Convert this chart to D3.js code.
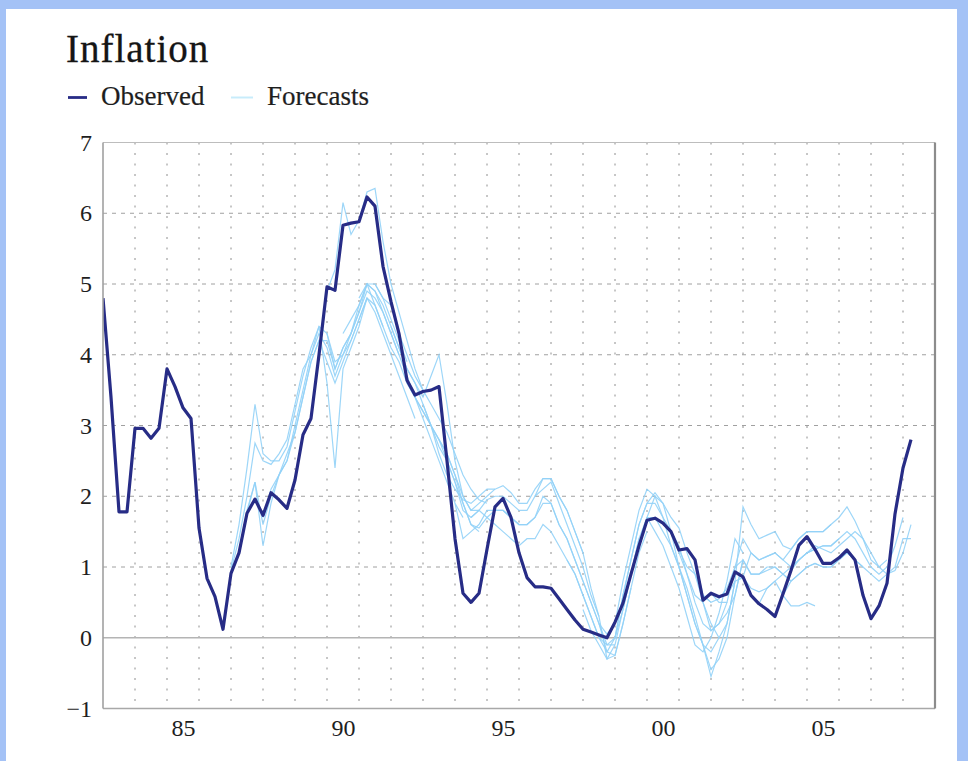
<!DOCTYPE html>
<html>
<head>
<meta charset="utf-8">
<script src="https://cdn.jsdelivr.net/npm/d3@7"></script>
<style>
  html, body { margin: 0; padding: 0; background: #a4c2f6; }
  svg { display: block; }
</style>
</head>
<body>
<svg id="chart" width="968" height="761"></svg>
<script>
const WIDTH = 968;
const HEIGHT = 761;
const MARGIN = { top: 142.5, right: 33, bottom: 52.5, left: 103 };

// observed inflation, quarterly from 1983Q1
const observedStart = 1983;
const observed = [
  4.8, 3.4, 1.78, 1.78, 2.96, 2.96, 2.82, 2.96,
  3.8, 3.55, 3.25, 3.1, 1.55, 0.84, 0.58, 0.12,
  0.91, 1.2, 1.76, 1.96, 1.73, 2.05, 1.95, 1.83,
  2.23, 2.87, 3.1, 4.0, 4.96, 4.91, 5.83, 5.86,
  5.88, 6.23, 6.1, 5.25, 4.75, 4.3, 3.64, 3.43,
  3.48, 3.5, 3.55, 2.5, 1.4, 0.63, 0.5, 0.63,
  1.25, 1.85, 1.97, 1.7, 1.2, 0.85, 0.72, 0.72,
  0.7, 0.55, 0.4, 0.25, 0.12, 0.08, 0.04, 0.0,
  0.22, 0.49, 0.9, 1.3, 1.66, 1.69, 1.62, 1.5,
  1.24, 1.26, 1.1, 0.53, 0.63, 0.58, 0.62, 0.93,
  0.86, 0.6, 0.48, 0.4, 0.3, 0.62, 0.95, 1.31,
  1.43, 1.25, 1.05, 1.05, 1.13, 1.24, 1.1, 0.6,
  0.27, 0.45, 0.77, 1.75, 2.4, 2.8
];

// forecast paths: first quarter, then quarterly values
const forecasts = [
  { start: "1987Q1", values: [1.0, 1.6, 2.4, 3.3, 2.6, 2.5, 2.5, 2.7, 3.2, 3.7, 4.1, 4.4, 3.6, 2.4, 3.8, 4.1, 4.4, 4.8] },
  { start: "1987Q1", values: [0.95, 1.4, 2.0, 2.75, 2.5, 2.45, 2.6, 2.8, 3.3, 3.8, 4.0, 4.3, 4.1, 3.7, 4.0, 4.2, 4.5, 4.8, 4.7, 4.4] },
  { start: "1987Q2", values: [1.2, 1.8, 2.2, 1.3, 1.9, 2.3, 2.5, 2.9, 3.4, 3.9, 4.2, 4.2, 3.8, 4.1, 4.3, 4.6, 5.0, 4.9, 4.6, 4.3, 4.0] },
  { start: "1987Q3", values: [1.76, 2.2, 1.6, 2.0, 2.3, 2.5, 3.0, 3.5, 4.0, 4.4, 4.3, 3.9, 4.0, 4.3, 4.7, 5.0, 5.0, 4.8, 4.5, 4.2, 3.9] },
  { start: "1988Q1", values: [1.7, 2.1, 2.3, 2.6, 2.9, 3.4, 3.9, 4.2, 3.9, 3.6, 3.9, 4.2, 4.5, 4.8, 4.6, 4.3, 4.0, 3.7, 3.4, 3.1] },
  { start: "1989Q3", values: [3.1, 4.0, 4.9, 5.2, 6.15, 5.7, 5.9, 6.3, 6.35, 5.6, 5.0, 4.6, 4.2, 3.8, 3.5] },
  { start: "1990Q1", values: [4.3, 3.8, 4.1, 4.3, 4.6, 4.9, 4.8, 4.6, 4.3, 4.0, 3.7, 3.4, 3.1, 2.8, 2.5, 2.2, 1.9, 1.7] },
  { start: "1990Q3", values: [4.3, 4.5, 4.7, 5.0, 4.9, 4.7, 4.4, 4.1, 3.8, 3.6, 3.3, 3.0, 2.7, 2.5, 2.2, 1.9, 1.6, 1.5] },
  { start: "1991Q1", values: [4.8, 5.0, 4.7, 4.4, 4.1, 3.9, 3.6, 3.4, 3.2, 3.0, 2.8, 2.6, 2.3, 2.0, 1.8, 1.8] },
  { start: "1991Q3", values: [5.0, 4.8, 4.7, 4.3, 4.0, 3.7, 3.5, 3.3, 3.1, 2.9, 2.6, 2.3, 2.1, 1.95, 1.9] },
  { start: "1992Q1", values: [4.4, 4.1, 3.8, 3.6, 3.4, 3.7, 4.0, 3.3, 2.5, 2.0, 1.8, 1.9, 2.0, 2.1] },
  { start: "1992Q3", values: [3.6, 3.4, 3.2, 3.0, 2.8, 2.6, 2.3, 1.9, 1.6, 1.55, 1.7, 1.8, 1.8, 1.7] },
  { start: "1993Q1", values: [3.3, 3.0, 2.6, 2.3, 2.1, 1.95, 1.9, 2.0, 2.1, 2.1, 2.15, 2.05, 1.9, 1.9, 2.1, 2.25, 2.25, 2.0, 1.8, 1.5, 1.2] },
  { start: "1993Q3", values: [2.8, 2.5, 2.2, 1.8, 1.7, 1.8, 1.95, 2.0, 2.0, 1.9, 1.8, 1.8, 2.0, 2.1, 2.2, 1.9, 1.6, 1.3, 1.0, 0.6, 0.3] },
  { start: "1994Q1", values: [1.9, 1.4, 1.5, 1.6, 1.8, 1.8, 1.8, 1.7, 1.6, 1.6, 1.7, 2.0, 1.9, 1.6, 1.4, 1.1, 0.8, 0.5, 0.2, -0.1, -0.1] },
  { start: "1994Q3", values: [1.7, 1.8, 1.7, 1.6, 1.5, 1.4, 1.3, 1.4, 1.4, 1.6, 1.5, 1.3, 1.1, 0.9, 0.6, 0.3, 0.0, -0.2, -0.25, 0.2, 0.7] },
  { start: "1995Q3", values: [1.8, 1.7, 1.6, 1.6, 1.7, 1.9, 1.9, 1.6, 1.4, 1.1, 0.8, 0.5, 0.2, -0.2, 0.0, 0.4, 0.9, 1.4] },
  { start: "1996Q3", values: [2.0, 2.25, 2.25, 2.0, 1.8, 1.5, 1.2, 0.7, 0.3, -0.3, -0.25, 0.2, 0.7, 1.2, 1.5] },
  { start: "1997Q3", values: [1.1, 0.9, 0.6, 0.3, 0.0, -0.1, 0.0, 0.6, 1.1, 1.6, 1.9, 2.05, 1.9, 1.7, 1.55, 1.2, 0.9, 0.6, 0.5] },
  { start: "1998Q1", values: [0.4, 0.1, -0.1, -0.3, -0.1, 0.4, 0.9, 1.4, 1.7, 1.7, 1.5, 1.3, 1.0, 0.6, 0.2, -0.1, -0.2, 0.0] },
  { start: "1998Q3", values: [0.2, 0.05, 0.2, 0.8, 1.3, 1.8, 2.1, 2.0, 1.7, 1.5, 1.3, 0.9, 0.5, 0.2, 0.1, 0.2, 0.5] },
  { start: "1999Q1", values: [0.0, 0.6, 1.1, 1.6, 1.9, 1.9, 1.7, 1.3, 1.0, 0.6, 0.2, -0.1, -0.55, -0.2, 0.2, 0.8] },
  { start: "1999Q3", values: [0.9, 1.3, 1.7, 2.0, 1.9, 1.5, 1.0, 0.7, 0.3, -0.1, -0.45, -0.3, 0.0, 0.6, 1.1] },
  { start: "2000Q1", values: [1.7, 1.5, 1.3, 1.0, 0.7, 0.3, -0.1, -0.2, 0.0, 0.35, 0.8, 1.4, 1.2] },
  { start: "2000Q3", values: [1.6, 1.5, 1.2, 0.9, 0.6, 0.5, 0.1, 0.2, 0.35, 0.6, 1.1, 0.9, 0.9, 1.0, 1.0, 0.9, 0.8] },
  { start: "2001Q1", values: [1.24, 1.0, 0.9, 0.5, 0.2, 0.0, 0.2, 0.8, 1.85, 1.6, 1.4, 1.45, 1.5, 1.3, 1.25, 1.4, 1.5, 1.5, 1.5, 1.6] },
  { start: "2001Q3", values: [1.1, 0.6, 0.5, 0.55, 0.7, 1.0, 1.4, 1.2, 1.1, 1.15, 1.2, 1.1, 1.0, 1.1, 1.2, 1.25, 1.3, 1.3, 1.4] },
  { start: "2002Q1", values: [0.63, 0.5, 0.5, 1.0, 1.1, 0.9, 0.9, 0.95, 1.0, 0.9, 0.8, 0.9, 1.0, 1.05, 1.0, 1.0, 1.1, 1.2, 1.1, 1.0] },
  { start: "2002Q3", values: [0.6, 0.8, 0.85, 0.7, 0.65, 0.7, 0.8, 0.6, 0.45, 0.45, 0.5, 0.45] },
  { start: "2003Q1", values: [0.86, 1.2, 1.1, 1.15, 1.2, 1.1, 1.25, 1.4, 1.5, 1.5, 1.5, 1.6, 1.7, 1.85, 1.65, 1.4, 1.1, 1.0, 1.1] },
  { start: "2003Q3", values: [0.48, 0.7, 0.8, 0.9, 1.0, 1.1, 1.2, 1.25, 1.3, 1.3, 1.4, 1.5, 1.4, 1.2, 1.0, 0.9, 1.0, 1.3, 1.7] },
  { start: "2004Q1", values: [0.3, 0.6, 0.8, 0.9, 1.0, 1.05, 1.0, 1.0, 1.1, 1.2, 1.1, 1.0, 0.9, 0.8, 0.9, 1.0, 1.4, 1.4] },
  { start: "2004Q3", values: [0.95, 1.1, 1.2, 1.3, 1.25, 1.2, 1.3, 1.4, 1.5, 1.4, 1.2, 1.0, 0.9, 0.95, 1.2, 1.6] }
];

const yTicks = [-1, 0, 1, 2, 3, 4, 5, 6, 7];
const gridYears = d3.range(1984, 2009);
const labelYears = [1985, 1990, 1995, 2000, 2005];
const labelText = ["85", "90", "95", "00", "05"];

const OBS_COLOR = "#272c86";
const FC_COLOR = "#92d2f7";
const SERIF = "'Liberation Serif', 'DejaVu Serif', serif";

const quarterToYear = s => +s.slice(0, 4) + (+s.slice(5) - 1) / 4;

const svg = d3.select("#chart");

// white page on the blue frame
svg.append("rect")
  .attr("x", 6).attr("y", 9)
  .attr("width", 951).attr("height", HEIGHT - 9)
  .attr("fill", "#fff");

const x = d3.scaleLinear()
  .domain([1983, 2009])
  .range([MARGIN.left, WIDTH - MARGIN.right]);
const y = d3.scaleLinear()
  .domain([-1, 7])
  .range([HEIGHT - MARGIN.bottom, MARGIN.top]);

// title and legend
svg.append("text")
  .attr("x", 66).attr("y", 62)
  .attr("font-family", SERIF)
  .attr("font-size", 39)
  .attr("letter-spacing", 1)
  .attr("fill", "#151515")
  .attr("stroke", "#151515").attr("stroke-width", 0.3)
  .text("Inflation");

const legend = svg.append("g")
  .attr("font-family", SERIF).attr("font-size", 27)
  .attr("fill", "#1e1e1e").attr("stroke", "#1e1e1e").attr("stroke-width", 0.2);
legend.append("line")
  .attr("x1", 68).attr("x2", 87).attr("y1", 97.5).attr("y2", 97.5)
  .attr("stroke", OBS_COLOR).attr("stroke-width", 2.8);
legend.append("text").attr("x", 101).attr("y", 105).text("Observed");
legend.append("line")
  .attr("x1", 231).attr("x2", 253).attr("y1", 97.5).attr("y2", 97.5)
  .attr("stroke", "#c8ecfb").attr("stroke-width", 2);
legend.append("text").attr("x", 267).attr("y", 105).text("Forecasts");

// grid
const grid = svg.append("g");
grid.selectAll(".vgrid")
  .data(gridYears)
  .join("line")
  .attr("class", "vgrid")
  .attr("x1", d => x(d)).attr("x2", d => x(d))
  .attr("y1", y(7)).attr("y2", y(-1))
  .attr("stroke", "#8e8e8e")
  .attr("stroke-width", 1)
  .attr("stroke-dasharray", "2,8.5");
grid.selectAll(".hgrid")
  .data(yTicks.filter(d => d > 0 && d < 7))
  .join("line")
  .attr("class", "hgrid")
  .attr("x1", x(1983)).attr("x2", x(2009))
  .attr("y1", d => y(d)).attr("y2", d => y(d))
  .attr("stroke", "#a0a0a0")
  .attr("stroke-width", 1)
  .attr("stroke-dasharray", "4,5");
grid.append("line")
  .attr("x1", x(1983)).attr("x2", x(2009))
  .attr("y1", y(0)).attr("y2", y(0))
  .attr("stroke", "#b4b4b4")
  .attr("stroke-width", 1.6);

// series
svg.append("clipPath").attr("id", "plot-clip")
  .append("rect")
  .attr("x", x(1983)).attr("y", y(7))
  .attr("width", x(2009) - x(1983)).attr("height", y(-1) - y(7));

const line = d3.line().x(d => x(d[0])).y(d => y(d[1]));
const plot = svg.append("g").attr("clip-path", "url(#plot-clip)");

plot.selectAll(".forecast")
  .data(forecasts)
  .join("path")
  .attr("class", "forecast")
  .attr("fill", "none")
  .attr("stroke", FC_COLOR)
  .attr("stroke-width", 1.2)
  .attr("stroke-opacity", 0.9)
  .attr("d", f => {
    const t0 = quarterToYear(f.start);
    return line(f.values.map((v, i) => [t0 + i / 4, v]));
  });

plot.append("path")
  .attr("fill", "none")
  .attr("stroke", OBS_COLOR)
  .attr("stroke-width", 3.2)
  .attr("stroke-linejoin", "round")
  .attr("d", line(observed.map((v, i) => [observedStart + i / 4, v])));

// frame
const frame = svg.append("g").attr("fill", "none");
frame.append("line").attr("x1", x(1983)).attr("x2", x(2009)).attr("y1", y(7)).attr("y2", y(7))
  .attr("stroke", "#bdbdbd").attr("stroke-width", 1.2);
frame.append("line").attr("x1", x(1983)).attr("x2", x(2009)).attr("y1", y(-1)).attr("y2", y(-1))
  .attr("stroke", "#a8a8a8").attr("stroke-width", 1.6);
frame.append("line").attr("x1", x(1983)).attr("x2", x(1983)).attr("y1", y(7)).attr("y2", y(-1))
  .attr("stroke", "#a0a0a0").attr("stroke-width", 1.6);
frame.append("line").attr("x1", x(2009)).attr("x2", x(2009)).attr("y1", y(7)).attr("y2", y(-1))
  .attr("stroke", "#8c8c8c").attr("stroke-width", 2.2);

// axes labels
const yAxis = svg.append("g")
  .attr("transform", `translate(${x(1983) - 11},0)`)
  .call(d3.axisLeft(y).tickValues(yTicks).tickSize(0).tickFormat(d => d < 0 ? "\u2212" + Math.abs(d) : d))
  .call(g => g.select(".domain").remove());
yAxis.selectAll("text")
  .attr("font-family", SERIF)
  .attr("font-size", 24)
  .attr("fill", "#1e1e1e")
  .attr("x", 0);

const xAxis = svg.append("g")
  .attr("transform", `translate(0,${y(-1) + 7})`)
  .call(d3.axisBottom(x).tickValues(labelYears.map(d => d + 0.5)).tickSize(0)
    .tickFormat((d, i) => labelText[i]))
  .call(g => g.select(".domain").remove());
xAxis.selectAll("text")
  .attr("font-family", SERIF)
  .attr("font-size", 24)
  .attr("fill", "#1e1e1e");
</script>
</body>
</html>
